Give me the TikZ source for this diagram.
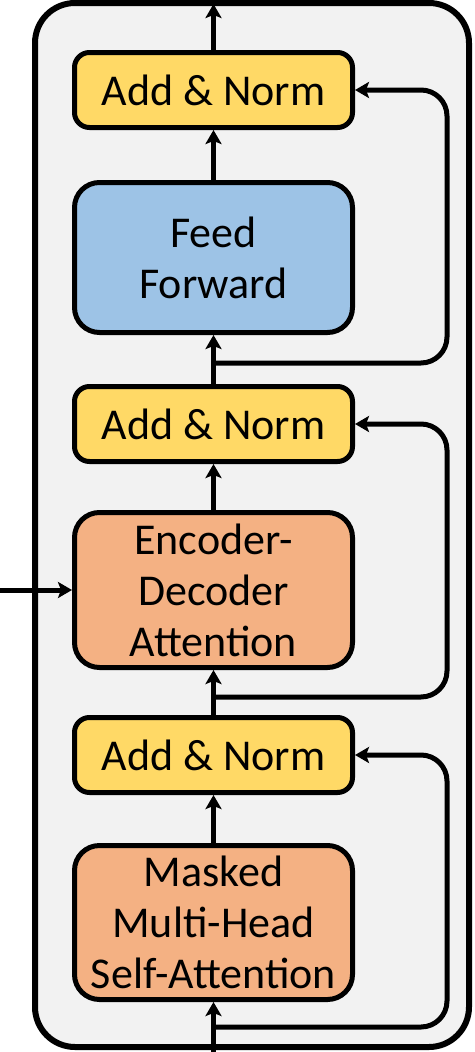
\documentclass[tikz,border=0pt]{standalone}
\usepackage{fontspec}
\setmainfont{Carlito}
\usetikzlibrary{arrows.meta}
\definecolor{bgc}{HTML}{F2F2F2}
\definecolor{yel}{HTML}{FFD966}
\definecolor{blu}{HTML}{9DC3E6}
\definecolor{ora}{HTML}{F4B183}
\begin{document}
\begin{tikzpicture}[x=1pt,y=-1pt,
  blk/.style={draw=black,line width=5pt,rounded corners=#1,inner sep=0pt,align=center,
     font=\fontsize{44}{51}\selectfont},
  addnorm/.style={blk=15pt,fill=yel,minimum width=278pt,minimum height=75pt},
  bigbox/.style={blk=25pt,minimum width=278pt,minimum height=152pt},
  conn/.style={line width=5pt,-{Stealth[length=14pt,width=16pt,inset=3pt]}},
  res/.style={line width=5pt,rounded corners=26pt,-{Stealth[length=14pt,width=16pt,inset=3pt]}}]
\useasboundingbox (0,0) rectangle (474,1052);
\draw[line width=6pt,fill=bgc,rounded corners=40pt] (35,3) rectangle (469,1047);
\node[addnorm] (an1) at (213.5,90) {Add \& Norm};
\node[bigbox,fill=blu,minimum height=150pt] (ff) at (213.5,257.5) {Feed\\Forward};
\node[addnorm] (an2) at (213.5,424) {Add \& Norm};
\node[bigbox,fill=ora,minimum height=155pt] (ed) at (213.5,590) {Encoder-\\Decoder\\Attention};
\node[addnorm] (an3) at (213.5,755) {Add \& Norm};
\node[bigbox,fill=ora,minimum height=154pt] (ms) at (213.5,922.5) {Masked\\Multi-Head\\Self-Attention};
\coordinate (out) at (213.5,4);
\coordinate (in) at (213.5,1052);
\coordinate (encin) at (0,590);
\coordinate (b1) at (213.5,363);
\coordinate (b2) at (213.5,697);
\coordinate (b3) at (213.5,1027);
\draw[conn] (an1.north) -- (out);
\draw[conn] (ff.north) -- (an1.south);
\draw[conn] (an2.north) -- (ff.south);
\draw[conn] (ed.north) -- (an2.south);
\draw[conn] (an3.north) -- (ed.south);
\draw[conn] (ms.north) -- (an3.south);
\draw[conn] (in) -- (ms.south);
\draw[conn] (encin) -- (ed.west);
\draw[res] (b1) -- (447,363) -- (447,90) -- (an1.east);
\draw[res] (b2) -- (447,697) -- (447,424) -- (an2.east);
\draw[res] (b3) -- (447,1027) -- (447,755) -- (an3.east);
\end{tikzpicture}
\end{document}
